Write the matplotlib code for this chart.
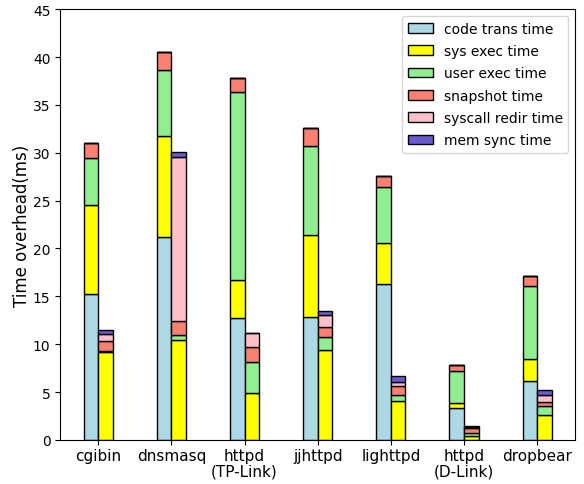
import numpy as np
import matplotlib.pyplot as plt

#%% data
progs = ['cgibin', 'dnsmasq', 'httpd\n(TP-Link)', 'jjhttpd', 'lighttpd', 'httpd\n(D-Link)', 'dropbear']
parts = ['code trans time', 'sys exec time', 'user exec time', 'snapshot time',
         'syscall redir time', 'mem sync time']
colors = ['lightblue', 'yellow', 'lightgreen', 'salmon', 'pink', 'slateblue']

# left bar of each pair
code_a = [15.2, 21.2, 12.7, 12.85, 16.3, 3.3, 6.2]
sys_a = [9.3, 10.6, 4.05, 8.55, 4.25, 0.6, 2.3]
user_a = [4.9, 6.8, 19.6, 9.3, 5.9, 3.3, 7.55]
snap_a = [1.6, 1.9, 1.5, 1.9, 1.1, 0.6, 1.1]
redir_a = [0, 0, 0, 0, 0, 0, 0]
sync_a = [0, 0, 0, 0, 0, 0, 0]

# right bar of each pair
code_b = [0, 0, 0, 0, 0, 0, 0]
sys_b = [9.2, 10.45, 4.9, 9.35, 4.05, 0.4, 2.6]
user_b = [0.1, 0.55, 3.25, 1.45, 0.6, 0.35, 0.9]
snap_b = [1.0, 1.4, 1.55, 1.0, 0.95, 0.45, 0.5]
redir_b = [0.8, 17.2, 1.45, 1.2, 0.4, 0.1, 0.65]
sync_b = [0.4, 0.5, 0.0, 0.5, 0.7, 0.1, 0.55]

series_a = [code_a, sys_a, user_a, snap_a, redir_a, sync_a]
series_b = [code_b, sys_b, user_b, snap_b, redir_b, sync_b]

#%% plot
fig, ax = plt.subplots(figsize=(5.84, 4.85), dpi=100)
x = np.arange(len(progs))
width = 0.2
bottom_a = np.zeros(len(progs))
bottom_b = np.zeros(len(progs))
for jp, p in enumerate(parts):
    ax.bar(x - width/2, series_a[jp], width=width, bottom=bottom_a, color=colors[jp],
           edgecolor='black', linewidth=1, label=p)
    ax.bar(x + width/2, series_b[jp], width=width, bottom=bottom_b, color=colors[jp],
           edgecolor='black', linewidth=1)
    bottom_a += np.array(series_a[jp])
    bottom_b += np.array(series_b[jp])

ax.set_xticks(x)
ax.set_xticklabels(progs, fontsize=11, linespacing=1.05)
ax.tick_params(axis='x', pad=2.5)
ax.set_ylim(0, 45)
ax.set_ylabel('Time overhead(ms)', fontsize=12, labelpad=1)
ax.legend(loc='upper right', fontsize=10, labelspacing=0.6, handlelength=1.8)
plt.subplots_adjust(left=0.103, right=0.985, bottom=0.091, top=0.979)
plt.savefig('out.png')
